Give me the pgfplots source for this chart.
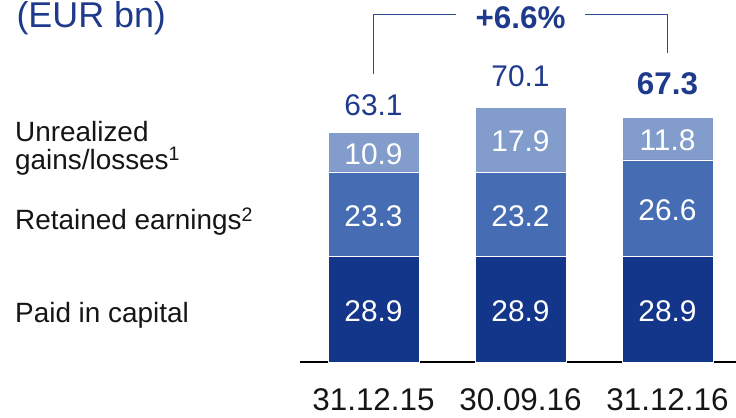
\documentclass[border=0pt]{standalone}
\usepackage{pgfplots}
\usepackage{pgfplotstable}
\pgfplotsset{compat=1.18}
\usepackage{fontspec}
\setmainfont{Liberation Sans}
\definecolor{cpaid}{HTML}{13358A}
\definecolor{cret}{HTML}{466DB4}
\definecolor{cunr}{HTML}{829DCC}
\definecolor{ctitle}{HTML}{1E3A8C}
\definecolor{cline}{HTML}{2E4A94}
\definecolor{ctext}{HTML}{151515}

\pgfplotstableread{
x paid ret unr total
0 28.9 23.3 10.9 63.1
1 28.9 23.2 17.9 70.1
2 28.9 26.6 11.8 67.3
}\data

\begin{document}
\begin{tikzpicture}[val/.style={anchor=center, text=white, font=\fontsize{30}{30}\selectfont}]
\useasboundingbox (0,0) rectangle (736bp,418bp);
\begin{axis}[
  at={(300bp,56bp)}, anchor=south west,
  scale only axis, width=436bp, height=362bp,
  xmin=-0.5, xmax=2.466, ymin=0, ymax=99.45,
  enlargelimits=false, clip=false,
  ybar stacked, bar width=91bp,
  axis x line*=bottom, axis y line=none,
  x axis line style={black, line width=1.3bp},
  xtick={0,1,2}, xticklabels={31.12.15,30.09.16,31.12.16},
  major tick length=0pt, ymajorticks=false,
  xticklabel style={anchor=base, yshift=-48bp, text=ctext, font=\fontsize{31.5}{32}\selectfont},
]
\addplot[fill=cpaid, draw=white, line width=0.8bp] table[x=x, y=paid] {\data};
\addplot[fill=cret, draw=white, line width=0.8bp] table[x=x, y=ret] {\data};
\addplot[fill=cunr, draw=white, line width=0.8bp] table[x=x, y=unr] {\data};

% centres of the segments, for the value labels
\coordinate (a1) at (axis cs:0,13.95);
\coordinate (a2) at (axis cs:0,40.05);
\coordinate (a3) at (axis cs:0,57.15);
\coordinate (b1) at (axis cs:1,13.95);
\coordinate (b2) at (axis cs:1,40.0);
\coordinate (b3) at (axis cs:1,60.55);
\coordinate (c1) at (axis cs:2,13.95);
\coordinate (c2) at (axis cs:2,41.7);
\coordinate (c3) at (axis cs:2,60.9);

\node[anchor=base, text=ctitle, font=\fontsize{30}{30}\selectfont] at (axis cs:0,67.6) {63.1};
\node[anchor=base, text=ctitle, font=\fontsize{30}{30}\selectfont] at (axis cs:1,75.8) {70.1};
\node[anchor=base, text=ctitle, font=\bfseries\fontsize{31.5}{32}\selectfont] at (axis cs:2,73.4) {67.3};
\node[anchor=base, text=ctitle, font=\bfseries\fontsize{31.5}{32}\selectfont] at (axis cs:1,91.7) {+6.6\%};
\draw[cline, line width=1.2bp] (axis cs:0,79.1) |- (axis cs:0.561,95.5);
\draw[cline, line width=1.2bp] (axis cs:1.439,95.5) -| (axis cs:2,84.9);
\end{axis}
\node[val] at (a1) {28.9};
\node[val] at (a2) {23.3};
\node[val] at (a3) {10.9};
\node[val] at (b1) {28.9};
\node[val] at (b2) {23.2};
\node[val] at (b3) {17.9};
\node[val] at (c1) {28.9};
\node[val] at (c2) {26.6};
\node[val] at (c3) {11.8};
\node[anchor=base west, text=ctitle, font=\fontsize{36}{36}\selectfont] at (13bp,390bp) {(EUR bn)};
\begin{scope}[every node/.style={anchor=base west, text=ctext, font=\fontsize{28}{28}\selectfont, inner sep=0pt}]
\node at (15bp,276.3bp) {Unrealized};
\node at (15bp,248.7bp) {gains/losses\textsuperscript{1}};
\node at (15bp,188bp) {Retained earnings\textsuperscript{2}};
\node at (15bp,95.3bp) {Paid in capital};
\end{scope}
\end{tikzpicture}
\end{document}
